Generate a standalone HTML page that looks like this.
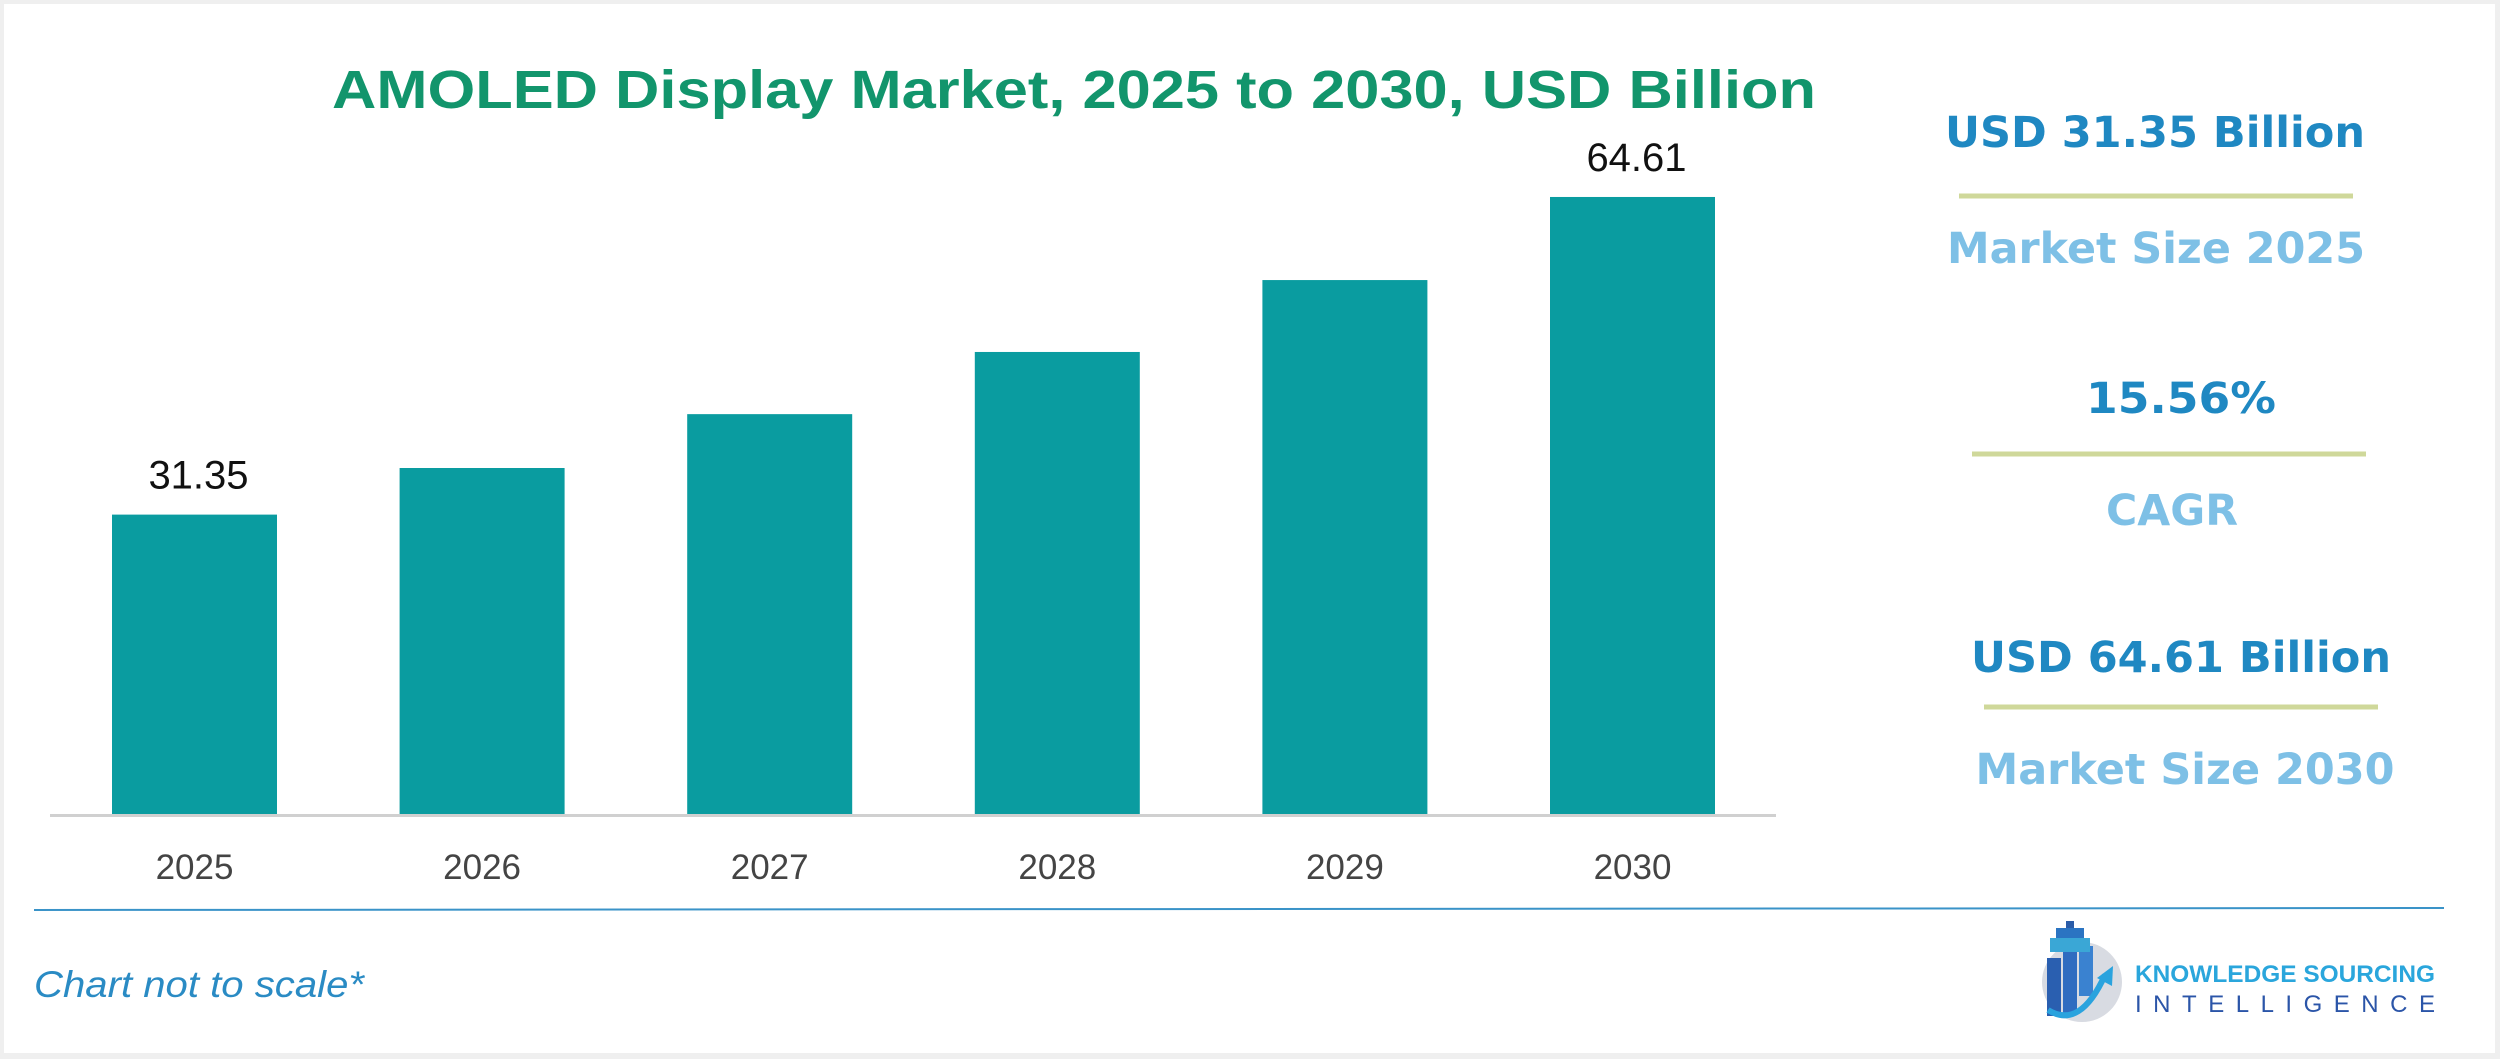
<!DOCTYPE html>
<html><head><meta charset="utf-8"><style>
html,body{margin:0;padding:0;background:#f2f2f2;}
svg{display:block;}
</style></head><body>
<svg width="2500" height="1059" viewBox="0 0 2500 1059" xmlns="http://www.w3.org/2000/svg">
<rect x="0" y="0" width="2500" height="1059" fill="#efefef"/>
<rect x="4" y="4" width="2491" height="1049" fill="#ffffff"/>
<text x="1074" y="108" text-anchor="middle" font-family="'Liberation Sans',sans-serif" font-weight="bold" font-size="54" fill="#12956c" textLength="1484" lengthAdjust="spacingAndGlyphs">AMOLED Display Market, 2025 to 2030, USD Billion</text>
<g id="bars"></g>
<line x1="50" y1="815.5" x2="1776" y2="815.5" stroke="#d0d0d0" stroke-width="3"/>
<line x1="34" y1="910" x2="2444" y2="908" stroke="#3a93c8" stroke-width="2"/>
<text x="34" y="997" font-family="'Liberation Sans',sans-serif" font-style="italic" font-size="37" fill="#2a8bc4" textLength="330" lengthAdjust="spacingAndGlyphs">Chart not to scale*</text>

<g font-family="'DejaVu Sans',sans-serif" font-weight="bold" text-anchor="middle">
<text x="2155" y="147" font-size="43" fill="#1f88c2" textLength="420" lengthAdjust="spacingAndGlyphs">USD 31.35 Billion</text>
<line x1="1959" y1="196" x2="2353" y2="196" stroke="#cfd89a" stroke-width="5"/>
<text x="2156" y="263" font-size="43" fill="#7ec0e6" textLength="418" lengthAdjust="spacingAndGlyphs">Market Size 2025</text>
<text x="2181" y="413" font-size="43" fill="#1f88c2" textLength="190" lengthAdjust="spacingAndGlyphs">15.56%</text>
<line x1="1972" y1="454" x2="2366" y2="454" stroke="#cfd89a" stroke-width="5"/>
<text x="2172" y="525" font-size="43" fill="#7ec0e6" textLength="132" lengthAdjust="spacingAndGlyphs">CAGR</text>
<text x="2181" y="672" font-size="43" fill="#1f88c2" textLength="420" lengthAdjust="spacingAndGlyphs">USD 64.61 Billion</text>
<line x1="1984" y1="707" x2="2378" y2="707" stroke="#cfd89a" stroke-width="5"/>
<text x="2185" y="784" font-size="43" fill="#7ec0e6" textLength="419" lengthAdjust="spacingAndGlyphs">Market Size 2030</text>
</g>

<g>
<circle cx="2082" cy="982" r="40" fill="#d8dbe2"/>
<rect x="2047" y="958" width="14" height="58" fill="#2a5fb0"/>
<rect x="2063" y="952" width="14" height="62" fill="#2f6cc0"/>
<rect x="2079" y="946" width="14" height="50" fill="#3a82d0"/>
<rect x="2050" y="938" width="40" height="14" fill="#3aa7d6"/>
<rect x="2056" y="928" width="28" height="10" fill="#2b74c2"/>
<rect x="2066" y="921" width="8" height="7" fill="#2b5ca8"/>
<path d="M2048 1010 Q2080 1030 2105 975" stroke="#2aa3de" stroke-width="6" fill="none"/>
<polygon points="2097,978 2113,966 2112,986" fill="#2aa3de"/>
<text x="2135" y="982" font-family="'Liberation Sans',sans-serif" font-weight="bold" font-size="24" fill="#2aa6dc" textLength="300" lengthAdjust="spacingAndGlyphs">KNOWLEDGE SOURCING</text>
<text x="2135" y="1012" font-family="'Liberation Sans',sans-serif" font-size="24" fill="#2b55a8" textLength="300" lengthAdjust="spacing">INTELLIGENCE</text>
</g>
</svg>
<script>
const categories = ["2025","2026","2027","2028","2029","2030"];
const values = [31.35, 36.23, 41.87, 48.38, 55.91, 64.61];
const valueLabels = ["31.35","","","","","64.61"];
const NS = "http://www.w3.org/2000/svg";
const baseY = 814, pxPerUnit = 9.55, x0 = 112, pitch = 287.6, barW = 165;
function xPos(i){ return x0 + i*pitch; }
function yPos(v){ return baseY - v*pxPerUnit; }
const g = document.getElementById('bars');
categories.forEach((c,i)=>{
  const r = document.createElementNS(NS,'rect');
  r.setAttribute('x', xPos(i)); r.setAttribute('y', yPos(values[i]));
  r.setAttribute('width', barW); r.setAttribute('height', baseY - yPos(values[i]));
  r.setAttribute('fill', '#0a9ca0');
  
  
  g.appendChild(r);
  const t = document.createElementNS(NS,'text');
  t.setAttribute('x', xPos(i) + barW/2); t.setAttribute('y', 879);
  t.setAttribute('text-anchor','middle'); t.setAttribute('font-family',"'Liberation Sans',sans-serif");
  t.setAttribute('font-size','35'); t.setAttribute('fill','#444');
  t.textContent = c;
  
  
  g.appendChild(t);
  if (valueLabels[i]) {
    const l = document.createElementNS(NS,'text');
    l.setAttribute('x', xPos(i) + barW/2 + 4); l.setAttribute('y', yPos(values[i]) - 26);
    l.setAttribute('text-anchor','middle'); l.setAttribute('font-family',"'Liberation Sans',sans-serif");
    l.setAttribute('font-size','40'); l.setAttribute('fill','#111');
    l.textContent = valueLabels[i];
    
    
    g.appendChild(l);
  }
});
</script>
</body></html>
